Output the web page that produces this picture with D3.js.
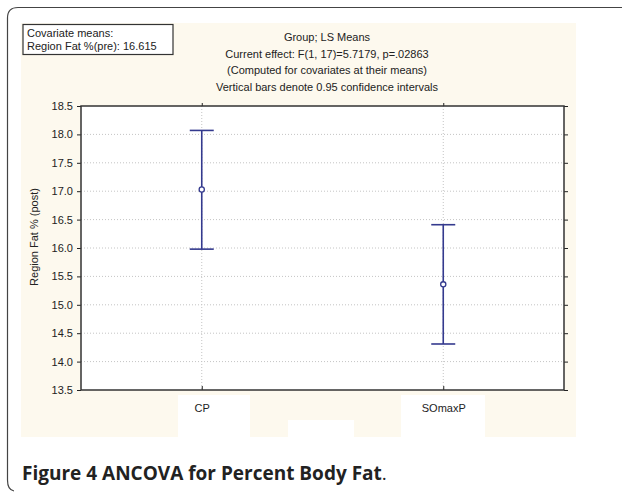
<!DOCTYPE html>
<html>
<head>
<meta charset="utf-8">
<script src="https://cdn.jsdelivr.net/npm/d3@7"></script>
<style>
html,body{margin:0;padding:0;background:#fff;}
svg{display:block;}
</style>
</head>
<body>
<svg id="chart" width="622" height="494"></svg>
<script>
// ---- data ----
const groups = ["CP", "SOmaxP"];
const means = [17.03, 15.36];
const upper = [18.07, 16.41];
const lower = [15.98, 14.31];
const yTicks = [13.5, 14.0, 14.5, 15.0, 15.5, 16.0, 16.5, 17.0, 17.5, 18.0, 18.5];
const titleLines = [
  "Group; LS Means",
  "Current effect: F(1, 17)=5.7179, p=.02863",
  "(Computed for covariates at their means)",
  "Vertical bars denote 0.95 confidence intervals"
];
const legendLines = ["Covariate means:", "Region Fat %(pre): 16.615"];
const yTitle = "Region Fat % (post)";
const caption = "Figure 4 ANCOVA for Percent Body Fat";

const svg = d3.select("#chart");
const font = "'Liberation Sans', Arial, sans-serif";

// outer rounded frame
svg.append("path")
  .attr("d", "M622,7.5 L18,7.5 Q7.5,7.5 7.5,18 L7.5,480 Q7.5,490 14,491")
  .attr("fill", "none").attr("stroke", "#444").attr("stroke-width", 1.2);

// cream panel
svg.append("rect").attr("x", 21).attr("y", 23).attr("width", 555).attr("height", 414)
  .attr("fill", "#fdf9ee");
// white label patches
[[178, 395, 72, 42], [288, 420, 66, 22], [401, 395, 84, 44]].forEach(r => {
  svg.append("rect").attr("x", r[0]).attr("y", r[1]).attr("width", r[2]).attr("height", r[3]).attr("fill", "#fff");
});

const m = {left: 81, right: 564, top: 106, bottom: 390};
const x = d3.scalePoint().domain(groups).range([m.left, m.right]).padding(0.5);
const y = d3.scaleLinear().domain([13.5, 18.5]).range([m.bottom, m.top]);

// plot background
svg.append("rect").attr("x", m.left).attr("y", m.top)
  .attr("width", m.right - m.left).attr("height", m.bottom - m.top).attr("fill", "#fff");

// grid
svg.append("g").selectAll("line").data(yTicks.slice(1, -1)).join("line")
  .attr("x1", m.left).attr("x2", m.right)
  .attr("y1", d => y(d)).attr("y2", d => y(d))
  .attr("stroke", "#c4c4c4").attr("stroke-width", 1).attr("stroke-dasharray", "1,2");
svg.append("g").selectAll("line").data(groups).join("line")
  .attr("x1", d => x(d)).attr("x2", d => x(d))
  .attr("y1", m.top).attr("y2", m.bottom)
  .attr("stroke", "#c4c4c4").attr("stroke-width", 1).attr("stroke-dasharray", "1,2");

// axes
const yAxisL = svg.append("g").attr("transform", `translate(${m.left},0)`)
  .call(d3.axisLeft(y).tickValues(yTicks).tickFormat(d3.format(".1f")).tickSize(4).tickPadding(4));
const yAxisR = svg.append("g").attr("transform", `translate(${m.right},0)`)
  .call(d3.axisRight(y).tickValues(yTicks).tickFormat("").tickSize(4));
const xAxisB = svg.append("g").attr("transform", `translate(0,${m.bottom})`)
  .call(d3.axisBottom(x).tickSize(-4).tickPadding(14));
const xAxisT = svg.append("g").attr("transform", `translate(0,${m.top})`)
  .call(d3.axisTop(x).tickSize(3).tickFormat(""));
[yAxisL, yAxisR, xAxisB, xAxisT].forEach(g => {
  g.select(".domain").remove();
  g.selectAll(".tick line").attr("stroke", "#222");
  g.selectAll("text").attr("font-family", font).attr("font-size", 11).attr("fill", "#222");
});
xAxisB.selectAll("text").attr("font-size", 11);

// frame
svg.append("rect").attr("x", m.left).attr("y", m.top)
  .attr("width", m.right - m.left).attr("height", m.bottom - m.top)
  .attr("fill", "none").attr("stroke", "#333").attr("stroke-width", 1.5);

// error bars
const col = "#343a8e";
const eb = svg.append("g").selectAll("g").data(groups).join("g");
eb.append("line")
  .attr("x1", d => x(d)).attr("x2", d => x(d))
  .attr("y1", (d, i) => y(upper[i])).attr("y2", (d, i) => y(lower[i]))
  .attr("stroke", col).attr("stroke-width", 1.6);
eb.append("line")
  .attr("x1", d => x(d) - 12).attr("x2", d => x(d) + 12)
  .attr("y1", (d, i) => y(upper[i])).attr("y2", (d, i) => y(upper[i]))
  .attr("stroke", col).attr("stroke-width", 1.6);
eb.append("line")
  .attr("x1", d => x(d) - 12).attr("x2", d => x(d) + 12)
  .attr("y1", (d, i) => y(lower[i])).attr("y2", (d, i) => y(lower[i]))
  .attr("stroke", col).attr("stroke-width", 1.6);
eb.append("circle")
  .attr("cx", d => x(d)).attr("cy", (d, i) => y(means[i])).attr("r", 2.6)
  .attr("fill", "#fff").attr("stroke", col).attr("stroke-width", 1.3);

// titles
svg.append("g").selectAll("text").data(titleLines).join("text")
  .attr("x", 327).attr("y", (d, i) => 41 + i * 16.7)
  .attr("text-anchor", "middle").attr("font-family", font).attr("font-size", 11)
  .attr("fill", "#222").text(d => d);

// legend box
svg.append("rect").attr("x", 23).attr("y", 24.5).attr("width", 150).attr("height", 30)
  .attr("fill", "#fff").attr("stroke", "#333").attr("stroke-width", 1.2);
svg.append("g").selectAll("text").data(legendLines).join("text")
  .attr("x", 27).attr("y", (d, i) => 37 + i * 12.5)
  .attr("font-family", font).attr("font-size", 11).attr("fill", "#222").text(d => d);

// y title
svg.append("text")
  .attr("transform", `translate(38,237) rotate(-90)`)
  .attr("text-anchor", "middle").attr("font-family", font).attr("font-size", 11)
  .attr("fill", "#222").text(yTitle);

// caption
const cap = svg.append("text").attr("x", 22).attr("y", 480)
  .attr("font-family", "'Open Sans', sans-serif").attr("font-size", 19).attr("fill", "#222");
cap.append("tspan").attr("font-weight", "bold").text(caption);
cap.append("tspan").attr("font-weight", "normal").text(".");
</script>
</body>
</html>
